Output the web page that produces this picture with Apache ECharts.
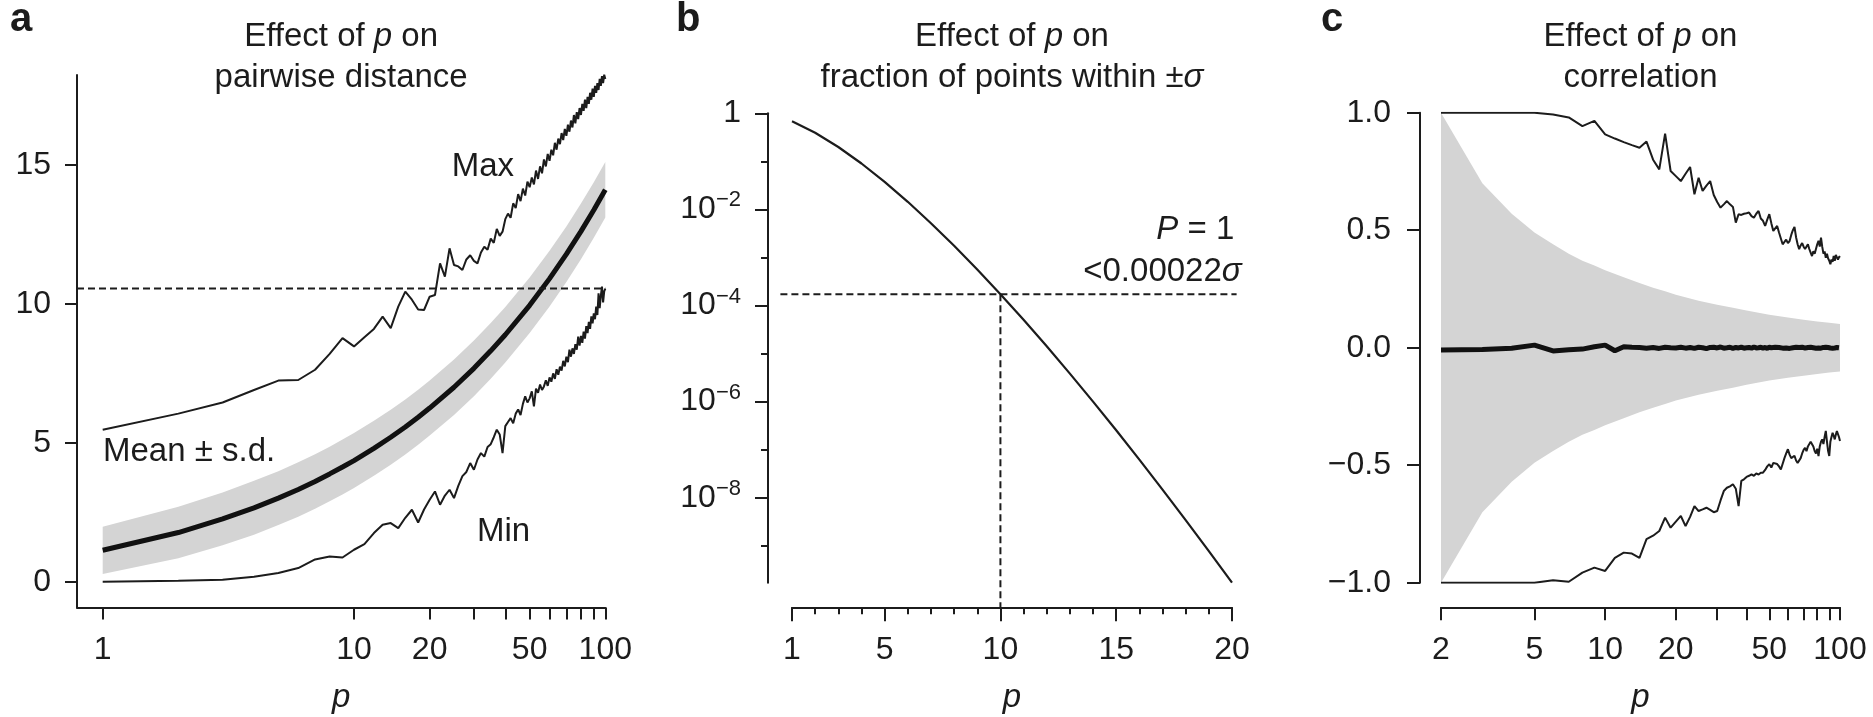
<!DOCTYPE html>
<html>
<head>
<meta charset="utf-8">
<title>Effect of p</title>
<script src="https://cdn.jsdelivr.net/npm/echarts@6.0.0/dist/echarts.min.js"></script>
<style>
  html, body { margin: 0; padding: 0; background: #ffffff; }
  #chart { width: 1873px; height: 717px; }
</style>
</head>
<body>
<div id="chart"></div>
<script>
// ---------------- data ----------------
// panel a: pairwise distance vs dimension p (1..100)
const pA = Array.from({ length: 100 }, (_, i) => i + 1);
const maxA = [
  5.47, 6.05, 6.45, 6.90, 7.24, 7.26, 7.63, 8.20, 8.77, 8.47,
  8.80, 9.10, 9.54, 9.13, 9.90, 10.44, 10.15, 9.80, 9.78, 10.26,
  10.32, 11.46, 10.98, 12.00, 11.40, 11.35, 11.22, 11.60, 11.75, 11.55,
  11.46, 11.85, 12.06, 11.95, 12.35, 12.20, 12.70, 12.45, 12.60, 13.05,
  13.25, 13.10, 13.62, 13.45, 13.95, 13.70, 14.15, 13.90, 14.40, 14.20,
  14.55, 14.30, 14.80, 14.50, 14.95, 14.70, 15.20, 14.95, 15.40, 15.15,
  15.55, 15.35, 15.80, 15.55, 15.95, 15.75, 16.15, 15.90, 16.30, 16.05,
  16.45, 16.20, 16.60, 16.35, 16.80, 16.50, 16.90, 16.65, 17.05, 16.80,
  17.20, 16.95, 17.35, 17.05, 17.45, 17.20, 17.60, 17.35, 17.75, 17.45,
  17.85, 17.60, 17.95, 17.70, 18.10, 17.85, 18.20, 17.95, 18.25, 18.10
];
const minA = [
  0.00, 0.03, 0.07, 0.18, 0.31, 0.49, 0.80, 0.91, 0.87, 1.15,
  1.35, 1.75, 2.05, 2.11, 1.93, 2.30, 2.59, 2.13, 2.60, 2.95,
  3.25, 2.77, 3.10, 3.31, 3.01, 3.45, 3.80, 3.95, 4.27, 4.03,
  4.40, 4.63, 4.50, 4.85, 4.95, 5.20, 5.47, 5.30, 4.63, 5.60,
  5.75, 5.89, 5.70, 6.05, 6.20, 6.00, 6.40, 6.67, 6.45, 6.60,
  6.85, 6.31, 6.95, 6.80, 7.10, 6.90, 7.03, 7.25, 7.05, 7.35,
  7.20, 7.50, 7.30, 7.65, 7.45, 7.74, 7.60, 7.95, 7.75, 8.10,
  7.90, 8.35, 8.10, 8.40, 8.20, 8.55, 8.35, 8.82, 8.50, 8.85,
  8.60, 9.00, 8.75, 9.20, 8.95, 9.35, 9.10, 9.55, 9.30, 9.66,
  9.45, 9.90, 9.60, 10.38, 9.85, 10.30, 10.62, 10.05, 10.45, 10.55
];
const pMeanA = [1, 2, 3, 4, 5, 6, 7, 8, 9, 10, 12, 14, 16, 18, 20, 25, 30, 35, 40, 50, 60, 70, 80, 90, 100];
const meanA = [1.13, 1.77, 2.26, 2.66, 3.01, 3.32, 3.61, 3.88, 4.13, 4.36, 4.80, 5.20, 5.57, 5.92, 6.25, 7.00, 7.68, 8.31, 8.89, 9.95, 10.91, 11.79, 12.61, 13.38, 14.11];
const sdA = [0.85, 0.93, 0.95, 0.97, 0.97, 0.98, 0.98, 0.98, 0.99, 0.99, 0.99, 0.99, 0.99, 0.99, 0.99, 1.00, 1.00, 1.00, 1.00, 1.00, 1.00, 1.00, 1.00, 1.00, 1.00];
const xTicksA = [1, 10, 20, 30, 40, 50, 60, 70, 80, 90, 100];
const xLabelsA = [1, 10, 20, 50, 100];
const yTicksA = [0, 5, 10, 15];

// panel b: fraction of points within +-sigma vs p (1..20)
const pB = Array.from({ length: 20 }, (_, i) => i + 1);
const fracB = [
  0.683, 0.393, 0.199, 0.0902, 0.0374, 0.0144, 0.00517, 0.00175, 5.62e-4, 1.72e-4,
  5.04e-5, 1.42e-5, 3.83e-6, 1.00e-6, 2.54e-7, 6.22e-8, 1.48e-8, 3.44e-9, 7.76e-10, 1.71e-10
];
const markPB = 10;
const xTicksB = pB;
const xMajorB = [1, 5, 10, 15, 20];
const yTicksB = [1, 1e-1, 1e-2, 1e-3, 1e-4, 1e-5, 1e-6, 1e-7, 1e-8, 1e-9];
const yMajorB = [1, 1e-2, 1e-4, 1e-6, 1e-8];

// panel c: correlation vs p (2..100)
const pC = Array.from({ length: 99 }, (_, i) => i + 2);
const maxC = [
  1.000, 1.000, 1.000, 1.000, 0.992, 0.980, 0.943, 0.965, 0.908,
  0.890, 0.875, 0.862, 0.851, 0.877, 0.800, 0.759, 0.911, 0.752, 0.730,
  0.709, 0.740, 0.769, 0.653, 0.723, 0.667, 0.690, 0.709, 0.650, 0.620,
  0.596, 0.610, 0.624, 0.610, 0.599, 0.532, 0.568, 0.565, 0.570, 0.572,
  0.575, 0.560, 0.553, 0.570, 0.582, 0.550, 0.540, 0.518, 0.545, 0.568,
  0.530, 0.497, 0.505, 0.518, 0.490, 0.465, 0.440, 0.450, 0.460, 0.445,
  0.454, 0.480, 0.500, 0.514, 0.470, 0.440, 0.419, 0.435, 0.445, 0.430,
  0.420, 0.426, 0.440, 0.420, 0.405, 0.390, 0.410, 0.400, 0.420, 0.440,
  0.455, 0.430, 0.468, 0.430, 0.400, 0.410, 0.383, 0.400, 0.380, 0.370,
  0.355, 0.375, 0.365, 0.390, 0.370, 0.395, 0.400, 0.375, 0.385, 0.390
];
const minC = [
  -1.000, -1.000, -1.000, -1.000, -0.990, -0.996, -0.957, -0.936, -0.950,
  -0.894, -0.872, -0.876, -0.894, -0.815, -0.800, -0.780, -0.723, -0.766, -0.740,
  -0.716, -0.759, -0.720, -0.674, -0.695, -0.688, -0.681, -0.690, -0.700, -0.695,
  -0.650, -0.610, -0.596, -0.590, -0.581, -0.600, -0.674, -0.567, -0.560, -0.550,
  -0.545, -0.539, -0.545, -0.535, -0.540, -0.532, -0.532, -0.520, -0.505, -0.496,
  -0.510, -0.490, -0.482, -0.495, -0.505, -0.518, -0.510, -0.470, -0.450, -0.432,
  -0.455, -0.470, -0.475, -0.460, -0.480, -0.490, -0.496, -0.470, -0.450, -0.435,
  -0.426, -0.440, -0.420, -0.410, -0.400, -0.397, -0.420, -0.440, -0.450, -0.430,
  -0.461, -0.420, -0.400, -0.390, -0.410, -0.380, -0.354, -0.400, -0.440, -0.461,
  -0.400, -0.380, -0.362, -0.375, -0.390, -0.370, -0.355, -0.362, -0.380, -0.397
];
const meanC = [
  -0.010, -0.008, -0.002, 0.011, -0.014, -0.009, -0.006, 0.004, 0.011,
  -0.013, 0.004, 0.002, 0.001, -0.002, 0.001, -0.003, 0.002, 0.000, -0.001,
  0.002, -0.002, 0.001, -0.003, 0.002, 0.000, -0.004, 0.001, 0.002, -0.001,
  0.003, -0.002, 0.000, 0.002, -0.003, 0.001, -0.001, 0.002, -0.002, 0.000,
  0.001, -0.002, 0.003, -0.001, 0.000, 0.002, -0.002, 0.001, -0.003, 0.002,
  0.000, -0.001, 0.002, -0.002, 0.001, 0.000, -0.002, 0.002, -0.001, 0.001,
  -0.003, 0.002, 0.000, -0.001, 0.002, -0.002, 0.001, -0.001, 0.002, 0.000,
  -0.002, 0.001, 0.001, -0.002, 0.002, -0.001, 0.000, 0.002, -0.002, 0.001,
  -0.001, 0.002, -0.002, 0.000, 0.001, -0.001, 0.002, -0.002, 0.001, 0.000,
  -0.001, 0.002, -0.002, 0.001, -0.001, 0.000, 0.001, -0.001, 0.000
];
const pBandC = [2, 3, 4, 5, 6, 7, 8, 9, 10, 12, 14, 16, 18, 20, 25, 30, 35, 40, 50, 60, 70, 80, 90, 100];
const sdC = [1.0, 0.70, 0.57, 0.49, 0.44, 0.40, 0.37, 0.35, 0.33, 0.30, 0.275, 0.255, 0.24, 0.225, 0.20, 0.183, 0.17, 0.158, 0.14, 0.128, 0.119, 0.112, 0.106, 0.101];
const xTicksC = [2, 5, 10, 20, 30, 40, 50, 60, 70, 80, 90, 100];
const xLabelsC = [2, 5, 10, 20, 50, 100];
const yTicksC = [-1, -0.5, 0, 0.5, 1];

// ---------------- styling & layout ----------------
const FONT = '"Liberation Sans", Arial, Helvetica, sans-serif';
const INK = '#1c1c1c';
const BAND = '#d4d4d4';
const FS = 32;      // tick labels
const FS_T = 33;    // titles and annotations
const AXIS_W = 2;

// plot boxes in px
const A = { left: 77, top: 75, bottom: 607.5, p1: 102.7, p100: 605.3, y0: 581.7, y15: 165 };
const B = { left: 792, right: 1232, top: 113.3, bottom: 582.7, axisY: 607.3, axisX: 768, guideLeft: 780.4, guideRight: 1236.6 };
const C = { left: 1441, right: 1840, top: 112.7, bottom: 582.7, axisY: 607.3, axisX: 1420 };

// panel a scales
const decA = (A.p100 - A.p1) / 2;
const xMinA = Math.pow(10, -(A.p1 - A.left) / decA);
const unitA = (A.y0 - A.y15) / 15;
const yMinA = -(A.bottom - A.y0) / unitA;
const yMaxA = (A.y0 - A.top) / unitA;

// panel b scales
const fracMin = Math.min(...fracB);
const decB = (B.bottom - B.top) / (-Math.log10(fracMin));
const ppuB = (B.right - B.left) / (pB[pB.length - 1] - pB[0]);
const gxMin = pB[0] - (B.left - B.guideLeft) / ppuB;
const gxMax = pB[pB.length - 1] + (B.guideRight - B.right) / ppuB;
const gyMin = Math.pow(10, -(B.axisY - B.top) / decB);
const fracAtMark = fracB[pB.indexOf(markPB)];

const lineStyleAxis = { color: INK, width: AXIS_W };
const labelBase = { color: INK, fontFamily: FONT, fontSize: FS };
const nameStyle = { color: INK, fontFamily: FONT, fontSize: FS_T, fontStyle: 'italic' };
const NAME_GAP = 74;

function axis(o) {
  return Object.assign({
    splitLine: { show: false },
    minorTick: { show: false },
    minorSplitLine: { show: false },
    splitArea: { show: false }
  }, o);
}

const grid = [
  { left: A.left, top: A.top, width: A.p100 - A.left, height: A.bottom - A.top },
  { left: B.left, top: B.top, width: B.right - B.left, height: B.bottom - B.top },
  { left: B.guideLeft, top: B.top, width: B.guideRight - B.guideLeft, height: B.axisY - B.top },
  { left: C.left, top: C.top, width: C.right - C.left, height: C.bottom - C.top }
].map(g => Object.assign({ containLabel: false, outerBoundsMode: 'none', show: false }, g));

const xAxis = [
  axis({
    gridIndex: 0, position: 'bottom', type: 'log', logBase: 10, min: xMinA, max: 100,
    axisLine: { show: true, onZero: false, lineStyle: lineStyleAxis },
    axisTick: { show: true, length: 12, lineStyle: lineStyleAxis, customValues: xTicksA },
    axisLabel: Object.assign({ show: true, margin: 27, customValues: xLabelsA, formatter: v => String(v) }, labelBase),
    name: 'p', nameLocation: 'middle', nameGap: NAME_GAP, nameTextStyle: nameStyle
  }),
  axis({
    gridIndex: 1, position: 'bottom', type: 'value', min: pB[0], max: pB[pB.length - 1], offset: B.axisY - B.bottom,
    axisLine: { show: true, onZero: false, lineStyle: lineStyleAxis },
    axisTick: { show: true, length: 7, lineStyle: lineStyleAxis, customValues: xTicksB },
    axisLabel: Object.assign({ show: true, margin: 27, customValues: xMajorB, formatter: v => String(v) }, labelBase),
    name: 'p', nameLocation: 'middle', nameGap: NAME_GAP, nameTextStyle: nameStyle
  }),
  axis({
    gridIndex: 1, position: 'bottom', type: 'value', min: pB[0], max: pB[pB.length - 1], offset: B.axisY - B.bottom,
    axisLine: { show: false },
    axisTick: { show: true, length: 14, lineStyle: lineStyleAxis, customValues: xMajorB },
    axisLabel: { show: false }
  }),
  axis({ gridIndex: 2, position: 'bottom', type: 'value', min: gxMin, max: gxMax, show: false }),
  axis({
    gridIndex: 3, position: 'bottom', type: 'log', logBase: 10, min: pC[0], max: pC[pC.length - 1], offset: C.axisY - C.bottom,
    axisLine: { show: true, onZero: false, lineStyle: lineStyleAxis },
    axisTick: { show: true, length: 13, lineStyle: lineStyleAxis, customValues: xTicksC },
    axisLabel: Object.assign({ show: true, margin: 27, customValues: xLabelsC, formatter: v => String(Math.round(v)) }, labelBase),
    name: 'p', nameLocation: 'middle', nameGap: NAME_GAP, nameTextStyle: nameStyle
  })
];

const supRich = { sup: { fontSize: 22, lineHeight: 22, verticalAlign: 'top', fontFamily: FONT, color: INK } };
const yAxis = [
  axis({
    gridIndex: 0, position: 'left', type: 'value', min: yMinA, max: yMaxA,
    axisLine: { show: true, onZero: false, lineStyle: lineStyleAxis },
    axisTick: { show: true, length: 12, lineStyle: lineStyleAxis, customValues: yTicksA },
    axisLabel: Object.assign({ show: true, margin: 26, customValues: yTicksA, formatter: v => String(v) }, labelBase)
  }),
  axis({
    gridIndex: 1, position: 'left', type: 'log', logBase: 10, min: fracMin, max: 1, offset: B.left - B.axisX,
    axisLine: { show: true, onZero: false, lineStyle: lineStyleAxis },
    axisTick: { show: true, length: 7, lineStyle: lineStyleAxis, customValues: yTicksB },
    axisLabel: Object.assign({
      show: true, margin: 27, customValues: yMajorB, lineHeight: 40, rich: supRich,
      formatter: v => {
        const e = Math.round(Math.log10(v));
        return e === 0 ? '1' : '10{sup|\u2212' + (-e) + '}';
      }
    }, labelBase)
  }),
  axis({
    gridIndex: 1, position: 'left', type: 'log', logBase: 10, min: fracMin, max: 1, offset: B.left - B.axisX,
    axisLine: { show: false },
    axisTick: { show: true, length: 13, lineStyle: lineStyleAxis, customValues: yMajorB },
    axisLabel: { show: false }
  }),
  axis({ gridIndex: 2, position: 'left', type: 'log', logBase: 10, min: gyMin, max: 1, show: false }),
  axis({
    gridIndex: 3, position: 'left', type: 'value', min: -1, max: 1, offset: C.left - C.axisX,
    axisLine: { show: true, onZero: false, lineStyle: lineStyleAxis },
    axisTick: { show: true, length: 13, lineStyle: lineStyleAxis, customValues: yTicksC },
    axisLabel: Object.assign({ show: true, margin: 29, customValues: yTicksC,
      formatter: v => (v < 0 ? '\u2212' : '') + Math.abs(v).toFixed(1) }, labelBase)
  })
];

const thin = { color: INK, width: 2 };
const thick = { color: '#111111', width: 5 };
const dashed = { color: INK, width: 2, type: [7, 4] };

function line(xi, yi, data, style, extra) {
  return Object.assign({
    type: 'line', xAxisIndex: xi, yAxisIndex: yi, data, z: 3,
    symbol: 'none', showSymbol: false, lineStyle: style, silent: true, animation: false
  }, extra || {});
}

// shaded band between lo and hi, drawn as one polygon through the axes' own coordinates
function band(xi, yi, ps, lo, hi) {
  return {
    type: 'custom', xAxisIndex: xi, yAxisIndex: yi, silent: true, animation: false, z: 1,
    data: ps.map((p, i) => [p, lo[i], hi[i]]),
    encode: { x: 0, y: [1, 2] },
    renderItem(params, api) {
      if (params.dataIndex !== 0) return null;
      const upper = ps.map((p, i) => api.coord([p, hi[i]]));
      const lower = ps.map((p, i) => api.coord([p, lo[i]])).reverse();
      return { type: 'polygon', shape: { points: upper.concat(lower) }, style: { fill: BAND, stroke: null } };
    }
  };
}

const series = [
  // panel a: mean +- s.d. band, mean, max and min distance
  band(0, 0, pMeanA, meanA.map((m, i) => m - sdA[i]), meanA.map((m, i) => m + sdA[i])),
  line(0, 0, pMeanA.map((p, i) => [p, meanA[i]]), thick),
  line(0, 0, pA.map((p, i) => [p, maxA[i]]), thin),
  line(0, 0, pA.map((p, i) => [p, minA[i]]), thin),
  line(0, 0, [[xMinA, minA[minA.length - 1]], [pA[pA.length - 1], minA[minA.length - 1]]], dashed),

  // panel b: fraction curve and guide lines at p = 10
  line(1, 1, pB.map((p, i) => [p, fracB[i]]), { color: INK, width: 2.2 }),
  line(3, 3, [[gxMin, fracAtMark], [gxMax, fracAtMark]], dashed),
  line(3, 3, [[markPB, fracAtMark], [markPB, gyMin]], dashed),

  // panel c: +- s.d. band, mean, max and min correlation
  band(4, 4, pBandC, sdC.map(s => -s), sdC),
  line(4, 4, pC.map((p, i) => [p, meanC[i]]), thick),
  line(4, 4, pC.map((p, i) => [p, maxC[i]]), thin),
  line(4, 4, pC.map((p, i) => [p, minC[i]]), thin)
];

// ---------------- texts ----------------
const richIt = { it: { fontStyle: 'italic', fontFamily: FONT, fontSize: FS_T, lineHeight: FS_T, fill: INK } };
function txt(x, y, text, o) {
  return {
    type: 'text', x, y, silent: true, z: 100,
    style: Object.assign({
      text, fill: INK, fontFamily: FONT, fontSize: FS_T, lineHeight: FS_T,
      align: 'left', verticalAlign: 'top', rich: richIt
    }, o || {})
  };
}
const midA = (A.left + A.p100) / 2;
const midB = (B.left + B.right) / 2;
const midC = (C.left + C.right) / 2;
const t1 = 20.0, t2 = 61.6;
const letter = { fontWeight: 'bold', fontSize: 40, lineHeight: 40 };

const graphic = [
  txt(10, 0.2, 'a', letter),
  txt(676, 0.2, 'b', letter),
  txt(1321, 0.2, 'c', letter),
  txt(midA, t1, 'Effect of {it|p} on', { align: 'center' }),
  txt(midA, t2, 'pairwise distance', { align: 'center' }),
  txt(midB, t1, 'Effect of {it|p} on', { align: 'center' }),
  txt(midB, t2, 'fraction of points within \u00b1{it|\u03c3}', { align: 'center' }),
  txt(midC, t1, 'Effect of {it|p} on', { align: 'center' }),
  txt(midC, t2, 'correlation', { align: 'center' }),
  txt(451.7, 150.6, 'Max'),
  txt(477, 515.6, 'Min'),
  txt(103, 435.6, 'Mean \u00b1 s.d.'),
  txt(1234.3, 213.0, '{it|P} = 1', { align: 'right' }),
  txt(1241.7, 255.6, '<0.00022{it|\u03c3}', { align: 'right' })
];

const chart = echarts.init(document.getElementById('chart'), null, { renderer: 'canvas', width: 1873, height: 717 });
chart.setOption({
  animation: false,
  backgroundColor: '#ffffff',
  grid, xAxis, yAxis, series, graphic
});
</script>
</body>
</html>
